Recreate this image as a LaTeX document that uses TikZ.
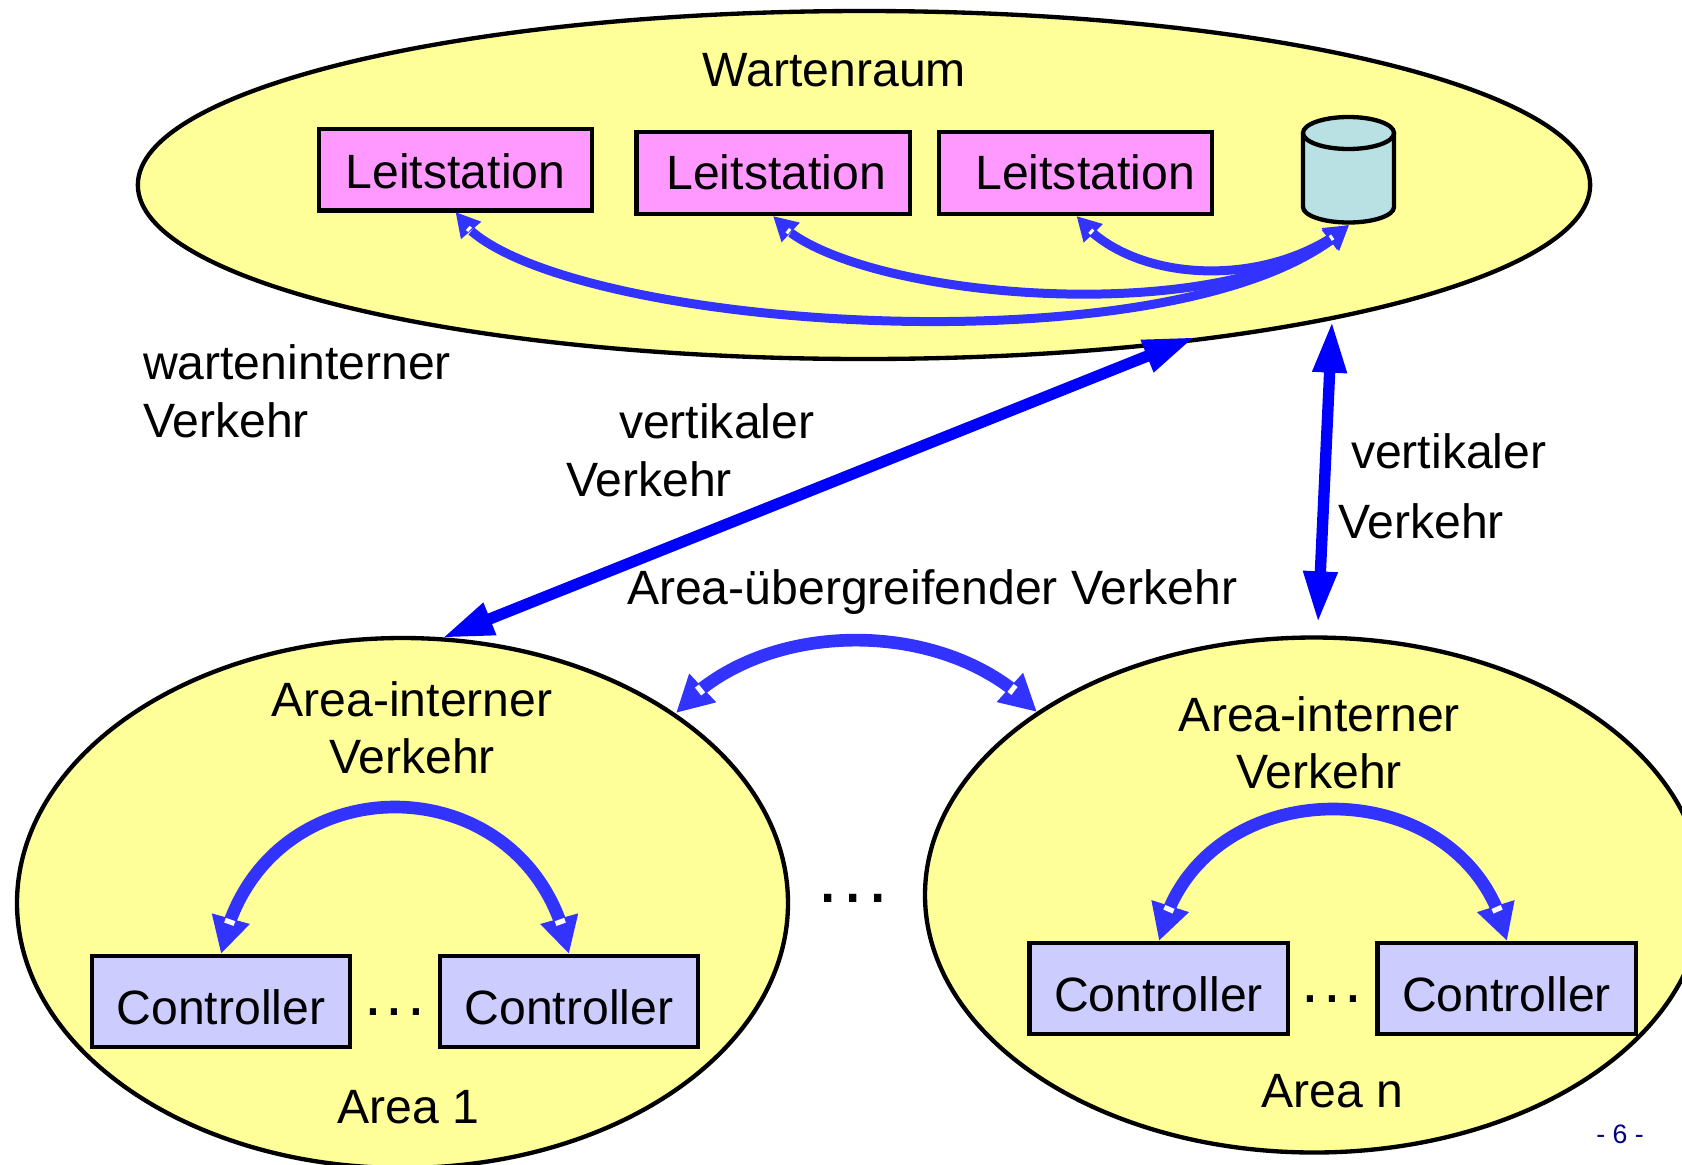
\documentclass[tikz,border=0pt]{standalone}
\usepackage{fontspec}
\setmainfont{Liberation Sans}
\usetikzlibrary{arrows.meta,shapes.geometric,bending,decorations.markings}
\definecolor{ylw}{HTML}{FFFF99}
\definecolor{pnk}{HTML}{FF99FF}
\definecolor{lav}{HTML}{CCCCFF}
\definecolor{cyl}{HTML}{B9E0E2}
\definecolor{cblue}{HTML}{3333FF}
\definecolor{navy}{HTML}{000080}
\begin{document}
\begin{tikzpicture}[x=0.6pt,y=-0.6pt,
  every node/.style={font=\fontsize{28.9}{34}\selectfont,inner sep=0pt,outer sep=0pt},
  zone/.style={ellipse,draw=black,line width=2.6pt,fill=ylw},
  leit/.style={rectangle,draw=black,line width=2.6pt,fill=pnk,minimum width=164pt,minimum height=49pt},
  ctrl/.style={rectangle,draw=black,line width=2.6pt,fill=lav,minimum width=155pt,minimum height=54.6pt,text height=27.4pt},
  txt/.style={anchor=base},
  txtl/.style={anchor=base west},
  dotsmall/.style={anchor=base,font=\fontsize{38.4}{40}\selectfont},
  dotbig/.style={anchor=base,font=\fontsize{46}{48}\selectfont},
  wtick/.style n args={3}{postaction={decorate},decoration={markings,
    mark=at position #1 with {\draw[arrows=-,white,line width=#3] (0,-#2)--(0,#2);},
    mark=at position -#1 with {\draw[arrows=-,white,line width=#3] (0,-#2)--(0,#2);}}},
  smallflow/.style={cblue,line width=5.4pt,
    {Triangle[length=14.5pt,width=15pt]}-{Triangle[length=14.5pt,width=15pt]},wtick={13pt}{1.7pt}{1.8pt}},
  flow/.style={cblue,line width=7.6pt,
    {Triangle[length=22pt,width=22pt]}-{Triangle[length=22pt,width=22pt]},wtick={20pt}{3pt}{3pt}},
  vert/.style={blue,line width=6.8pt,{Triangle[length=31pt,width=19pt]}-{Triangle[length=31pt,width=19pt]}}
]
\useasboundingbox (0,0) rectangle (1682,1164);
\clip (0,0) rectangle (1682,1164);

% zones
\node[zone,minimum width=871.4pt,minimum height=208.8pt] (warte) at (864,185) {};
\node[zone,minimum width=462.6pt,minimum height=318pt] (area1) at (402.5,903) {};
\node[zone,minimum width=466.8pt,minimum height=309pt] (arean) at (1314,895) {};

% control room
\node[txt] (wtitle) at (834.5,86) {Wartenraum};
\node[leit,text height=23.6pt] (l1) at (455.5,169.5) {Leitstation};
\node[leit,text depth=1.3pt] (l2) at (773,173) {\hspace*{3.8pt}Leitstation};
\node[leit,text depth=1.3pt] (l3) at (1075.5,173) {\hspace*{11.5pt}Leitstation};
\draw[black,line width=2.6pt,fill=cyl] (1303,133) -- (1303,207) arc[start angle=180,end angle=0,x radius=45.5,y radius=15.5] -- (1394,133);
\draw[black,line width=2.6pt,fill=cyl] (1348.5,133) ellipse[x radius=45.5,y radius=16];

% controllers
\node[ctrl] (c1) at (221,1001.5) {Controller};
\node[ctrl] (c2) at (569,1001.5) {Controller};
\node[ctrl] (c3) at (1158.5,988.5) {Controller};
\node[ctrl] (c4) at (1506.5,988.5) {Controller};
\node[dotsmall] (d1) at (394.5,1015) {.\kern2.2pt.\kern2.2pt.};
\node[dotsmall] (d2) at (1332,1002) {.\kern2.2pt.\kern2.2pt.};
\node[dotbig] (d3) at (853,902) {.\kern2.2pt.\kern2.2pt.};

% labels
\node[txtl] (lw1) at (143,379) {warteninterner};
\node[txtl] (lw2) at (143,437) {Verkehr};
\node[txtl] (lv1) at (619,438) {vertikaler};
\node[txtl] (lv2) at (566,496) {Verkehr};
\node[txtl] (lr1) at (1351,468) {vertikaler};
\node[txtl] (lr2) at (1338,538) {Verkehr};
\node[txtl] (lu) at (627,604) {Area-übergreifender Verkehr};
\node[txt] (a1a) at (412,716) {Area-interner};
\node[txt] (a1b) at (412,773) {Verkehr};
\node[txt] (a1c) at (408.5,1123) {Area 1};
\node[txt] (anin) at (1319.5,731) {Area-interner};
\node[txt] (anb) at (1319,788) {Verkehr};
\node[txt] (anc) at (1332.5,1107) {Area n};
\node[txt,text=navy,font=\fontsize{16}{18}\selectfont] (page) at (1620,1143.5) {- 6 -};

% connector ends
\coordinate (tl1) at (455.5,212);
\coordinate (tl2) at (773,216);
\coordinate (tl3) at (1076.5,216);
\coordinate (tdb) at (1349,225);
\coordinate (ta1) at (221,954);
\coordinate (ta2) at (569,954);
\coordinate (tn1) at (1159,941);
\coordinate (tn2) at (1507,941);
\coordinate (tx1) at (676,713);
\coordinate (tx2) at (1037,712);
\coordinate (vw1) at (1195,337);
\coordinate (va1) at (442,638);
\coordinate (vw2) at (1332,321);
\coordinate (va2) at (1318,623);

% traffic
\draw[smallflow] (tl1) .. controls (515,328) and (1190,380) .. (tdb);
\draw[smallflow] (tl2) .. controls (835,300) and (1240,335) .. (tdb);
\draw[smallflow] (tl3) .. controls (1130,285) and (1270,290) .. (tdb);
\draw[flow] (tx1) .. controls (760,616) and (950,616) .. (tx2);
\draw[flow] (ta1) .. controls (258,758) and (532,758) .. (ta2);
\draw[flow] (tn1) .. controls (1196,765) and (1470,765) .. (tn2);
\draw[vert] (vw1) -- (va1);
\draw[vert] (vw2) -- (va2);
\end{tikzpicture}
\end{document}
